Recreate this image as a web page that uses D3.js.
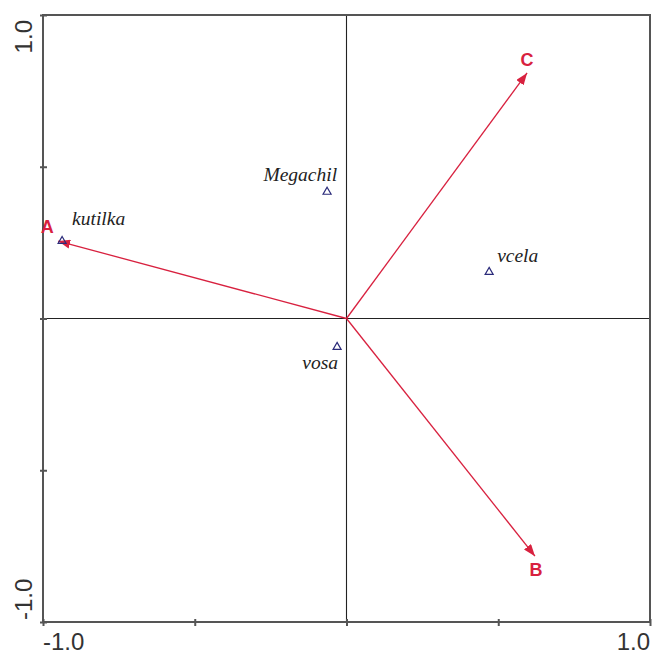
<!DOCTYPE html>
<html><head><meta charset="utf-8">
<script src="https://cdn.jsdelivr.net/npm/d3@7"></script>
<style>body{margin:0;background:#fff}</style>
</head><body>
<svg id="c" width="653" height="656"></svg>
<script>
// Data
const arrowNames = ["A", "B", "C"];
const arrowX = [-0.95, 0.621, 0.595];
const arrowY = [0.255, -0.783, 0.809];
const speciesNames = ["kutilka", "Megachil", "vosa", "vcela"];
const speciesX = [-0.937, -0.064, -0.031, 0.470];
const speciesY = [0.255, 0.417, -0.094, 0.153];
const tickValues = [-1, -0.5, 0, 0.5, 1];
const axisLabels = ["-1.0", "1.0"];

// Layout (pixel offsets for labels)
const arrowLabelOffset = [[-11, -14], [1, 14], [0, -13]];
const speciesLabelOffset = [[10, -16, "start"], [10, -11, "end"], [1, 22, "end"], [8, -10, "start"]];

const svg = d3.select("#c");
const L = 43, R = 650, T = 15, B = 622;
const x = d3.scaleLinear().domain([-1, 1]).range([L, R]);
const y = d3.scaleLinear().domain([-1, 1]).range([B, T]);
const red = "#d8213f";

// centre cross
svg.append("line").attr("x1", x(0)).attr("x2", x(0)).attr("y1", T).attr("y2", B)
  .attr("stroke", "#222").attr("stroke-width", 1.1);
svg.append("line").attr("x1", L).attr("x2", R).attr("y1", y(0)).attr("y2", y(0))
  .attr("stroke", "#222").attr("stroke-width", 1.1);

// box
svg.append("rect").attr("x", L).attr("y", T).attr("width", R - L).attr("height", B - T)
  .attr("fill", "none").attr("stroke", "#555").attr("stroke-width", 2);

// ticks
const bottomAxis = d3.axisBottom(x).tickValues(tickValues).tickSize(0).tickFormat("");
const gb = svg.append("g").attr("transform", `translate(0,${B})`).call(bottomAxis);
gb.select(".domain").remove();
gb.selectAll(".tick").append("line").attr("y1", -3).attr("y2", 4).attr("stroke", "#555").attr("stroke-width", 2);
const leftAxis = d3.axisLeft(y).tickValues(tickValues).tickSize(0).tickFormat("");
const gl = svg.append("g").attr("transform", `translate(${L},0)`).call(leftAxis);
gl.select(".domain").remove();
gl.selectAll(".tick").append("line").attr("x1", -3).attr("x2", 4).attr("stroke", "#555").attr("stroke-width", 2);

// axis labels
const lblStyle = s => s.attr("font-family", "Liberation Sans, Arial, sans-serif").attr("font-size", 24).attr("fill", "#333");
svg.append("text").text(axisLabels[0]).attr("x", x(-1)).attr("y", 650).attr("text-anchor", "start").call(lblStyle);
svg.append("text").text(axisLabels[1]).attr("x", x(1)).attr("y", 650).attr("text-anchor", "end").call(lblStyle);
svg.append("text").text(axisLabels[1]).attr("transform", `translate(32,${y(1) + 5}) rotate(-90)`).attr("text-anchor", "end").call(lblStyle);
svg.append("text").text(axisLabels[0]).attr("transform", `translate(32,${y(-1) - 2}) rotate(-90)`).attr("text-anchor", "start").call(lblStyle);

// arrows
svg.append("defs").append("marker").attr("id", "ah").attr("viewBox", "0 0 12 9")
  .attr("refX", 12).attr("refY", 4.5).attr("markerWidth", 12).attr("markerHeight", 9)
  .attr("markerUnits", "userSpaceOnUse").attr("orient", "auto")
  .append("path").attr("d", "M0,0 L12,4.5 L0,9 Z").attr("fill", red);

const arrows = arrowNames.map((n, i) => ({ n, x: arrowX[i], y: arrowY[i], o: arrowLabelOffset[i] }));
svg.selectAll(".arr").data(arrows).enter().append("line")
  .attr("x1", x(0)).attr("y1", y(0)).attr("x2", d => x(d.x)).attr("y2", d => y(d.y))
  .attr("stroke", red).attr("stroke-width", 1.3).attr("marker-end", "url(#ah)");

// species triangles
const sp = speciesNames.map((n, i) => ({ n, x: speciesX[i], y: speciesY[i], o: speciesLabelOffset[i] }));
svg.selectAll(".tri").data(sp).enter().append("path")
  .attr("d", d3.symbol().type(d3.symbolTriangle).size(28))
  .attr("transform", d => `translate(${x(d.x)},${y(d.y)})`)
  .attr("fill", "none").attr("stroke", "#2b2b7a").attr("stroke-width", 1.2);

svg.selectAll(".spl").data(sp).enter().append("text")
  .text(d => d.n)
  .attr("x", d => x(d.x) + d.o[0]).attr("y", d => y(d.y) + d.o[1])
  .attr("text-anchor", d => d.o[2])
  .attr("font-family", "Liberation Serif, Times New Roman, serif").attr("font-style", "italic")
  .attr("font-size", 19.5).attr("fill", "#222");

svg.selectAll(".arl").data(arrows).enter().append("text")
  .text(d => d.n)
  .attr("x", d => x(d.x) + d.o[0]).attr("y", d => y(d.y) + d.o[1])
  .attr("text-anchor", "middle").attr("dominant-baseline", "central")
  .attr("font-family", "Liberation Sans, Arial, sans-serif").attr("font-weight", "bold")
  .attr("font-size", 18).attr("fill", red);
</script>
</body></html>
